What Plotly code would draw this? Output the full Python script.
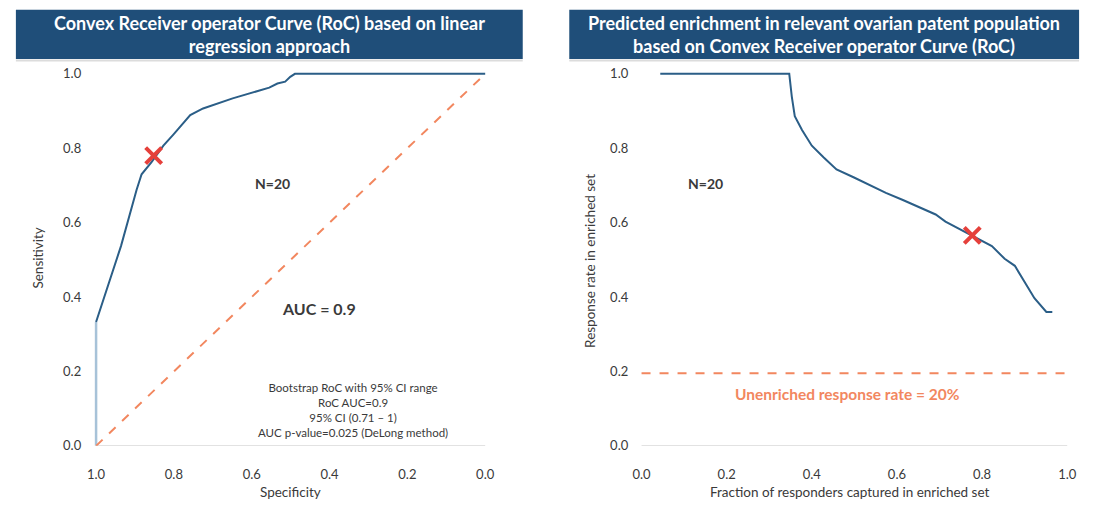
import plotly.graph_objects as go

# ---------------- data ----------------
# Left: ROC curve (specificity reversed on x)
roc_start_spec = [1.0, 1.0]
roc_start_sens = [0.0, 0.333]
roc_spec = [1.0, 0.936, 0.896, 0.883, 0.858, 0.827, 0.802, 0.776, 0.758, 0.725,
            0.649, 0.555, 0.534, 0.514, 0.501, 0.489, 0.0]
roc_sens = [0.333, 0.537, 0.688, 0.730, 0.762, 0.807, 0.836, 0.868, 0.889, 0.907,
            0.934, 0.963, 0.974, 0.979, 0.992, 1.0, 1.0]
chance_spec = [1.0, 0.0]
chance_sens = [0.0, 1.0]
roc_opt_spec = [0.852]
roc_opt_sens = [0.78]

# Right: predicted enrichment
enr_frac = [0.044, 0.347, 0.353, 0.360, 0.377, 0.400, 0.428, 0.458, 0.498, 0.551,
            0.558, 0.574, 0.614, 0.651, 0.691, 0.714, 0.777, 0.823, 0.853, 0.877,
            0.923, 0.951, 0.965]
enr_rate = [1.0, 1.0, 0.939, 0.886, 0.849, 0.807, 0.775, 0.743, 0.722, 0.693,
            0.690, 0.680, 0.661, 0.643, 0.622, 0.603, 0.566, 0.537, 0.503, 0.484,
            0.397, 0.360, 0.360]
enr_opt_frac = [0.777]
enr_opt_rate = [0.566]
base_frac = [0.0, 1.0]
base_rate = [0.195, 0.195]

tick_vals = [0.0, 0.2, 0.4, 0.6, 0.8, 1.0]
tick_text = ["0.0", "0.2", "0.4", "0.6", "0.8", "1.0"]

title_left = "Convex Receiver operator Curve (RoC) based on linear<br>regression approach"
title_right = ("Predicted enrichment in relevant ovarian patent population<br>"
               "based on Convex Receiver operator Curve (RoC)")
stats_text = ("Bootstrap RoC with 95% CI range<br>RoC AUC=0.9<br>95% CI (0.71 \u2013 1)<br>"
              "AUC p-value=0.025 (DeLong method)")

# ---------------- styles ----------------
FONT = "Lato"
BLUE = "#2b5e87"
LIGHTBLUE = "#a7c2d8"
ORANGE = "#f2875f"
RED = "#e5403b"
BANNER = "#1f4e79"
TXT = "#3a3a3a"

fig = go.Figure()

fig.add_trace(go.Scatter(x=roc_start_spec, y=roc_start_sens, mode="lines",
                         line=dict(color=LIGHTBLUE, width=2.5), xaxis="x", yaxis="y",
                         showlegend=False, hoverinfo="skip"))
fig.add_trace(go.Scatter(x=chance_spec, y=chance_sens, mode="lines",
                         line=dict(color=ORANGE, width=2, dash="dash"), xaxis="x", yaxis="y",
                         showlegend=False))
fig.add_trace(go.Scatter(x=roc_spec, y=roc_sens, mode="lines",
                         line=dict(color=BLUE, width=2), xaxis="x", yaxis="y",
                         showlegend=False))
fig.add_trace(go.Scatter(x=roc_opt_spec, y=roc_opt_sens, mode="markers",
                         marker=dict(symbol="x-thin", size=16, line=dict(color=RED, width=4)),
                         xaxis="x", yaxis="y", showlegend=False))

fig.add_trace(go.Scatter(x=base_frac, y=base_rate, mode="lines",
                         line=dict(color=ORANGE, width=2, dash="dash"), xaxis="x2", yaxis="y2",
                         showlegend=False))
fig.add_trace(go.Scatter(x=enr_frac, y=enr_rate, mode="lines",
                         line=dict(color=BLUE, width=2), xaxis="x2", yaxis="y2",
                         showlegend=False))
fig.add_trace(go.Scatter(x=enr_opt_frac, y=enr_opt_rate, mode="markers",
                         marker=dict(symbol="x-thin", size=16, line=dict(color=RED, width=4)),
                         xaxis="x2", yaxis="y2", showlegend=False))

W, H = 1094, 508
def px(v):
    return v / W
def py(v):
    return 1 - v / H

axis_common = dict(showgrid=False, zeroline=False, showline=False, ticks="",
                   tickvals=tick_vals, ticktext=tick_text,
                   tickfont=dict(family=FONT, size=13, color=TXT))

fig.update_layout(
    xaxis=dict(**axis_common, range=[1.015, -0.01], domain=[px(86.1), px(489)],
               anchor="y", ticklabelstandoff=19),
    yaxis=dict(**axis_common, range=[0, 1.03], domain=[1 - 453 / H, 1 - 63.7 / H],
               anchor="x", ticklabelstandoff=8),
    xaxis2=dict(**axis_common, range=[-0.01, 1.01], domain=[px(638.7), px(1077.3)],
                anchor="y2", ticklabelstandoff=19),
    yaxis2=dict(**axis_common, range=[0, 1.03], domain=[1 - 453 / H, 1 - 63.7 / H],
                anchor="x2", ticklabelstandoff=8),
)

shapes = [
    dict(type="rect", xref="paper", yref="paper", x0=px(11), x1=px(523), y0=py(60), y1=py(10),
         fillcolor=BANNER, line=dict(width=0), layer="below"),
    dict(type="rect", xref="paper", yref="paper", x0=px(570), x1=px(1085), y0=py(60), y1=py(10),
         fillcolor=BANNER, line=dict(width=0), layer="below"),
    dict(type="line", xref="paper", yref="paper", x0=px(11), x1=px(523), y0=py(61.5), y1=py(61.5),
         line=dict(color="#dcdcdc", width=2)),
    dict(type="line", xref="paper", yref="paper", x0=px(570), x1=px(1085), y0=py(61.5), y1=py(61.5),
         line=dict(color="#dcdcdc", width=2)),
    dict(type="line", xref="x", yref="y", x0=1.0, x1=0.0, y0=0, y1=0,
         line=dict(color="#d9d9d9", width=1.5), layer="below"),
    dict(type="line", xref="x2", yref="y2", x0=0.0, x1=1.0, y0=0, y1=0,
         line=dict(color="#d9d9d9", width=1.5), layer="below"),
]

def ann(text, x, y, size, color=TXT, xref="paper", yref="paper", angle=0):
    return dict(text=text, xref=xref, yref=yref, x=x, y=y, showarrow=False,
                xanchor="center", yanchor="middle", textangle=angle, align="center",
                font=dict(family=FONT, size=size, color=color))

annotations = [
    ann("<b>" + title_left + "</b>", px(267), py(35), 18, "white"),
    ann("<b>" + title_right + "</b>", px(827), py(35), 18, "white"),
    ann("<b>N=20</b>", 0.547, 0.706, 14, xref="x", yref="y"),
    ann("<b>AUC = 0.9</b>", 0.428, 0.37, 16, xref="x", yref="y"),
    ann(stats_text, 0.34, 0.097, 11.5, xref="x", yref="y"),
    ann("<b>N=20</b>", 0.15, 0.706, 14, xref="x2", yref="y2"),
    ann("<b>Unenriched response rate = 20%</b>", 0.485, 0.14, 15.5, ORANGE,
        xref="x2", yref="y2"),
    ann("Specificity", px(288), py(500), 13.5),
    ann("Sensitivity", px(33), py(262), 13.5, angle=-90),
    ann("Fraction of responders captured in enriched set", px(854), py(500), 13.5),
    ann("Response rate in enriched set", px(591), py(265), 13.5, angle=-90),
]

fig.update_layout(
    width=W, height=H, margin=dict(l=0, r=0, t=0, b=0),
    paper_bgcolor="white", plot_bgcolor="white",
    shapes=shapes, annotations=annotations, showlegend=False,
    font=dict(family=FONT, color=TXT),
)

fig.write_html("out.html")
